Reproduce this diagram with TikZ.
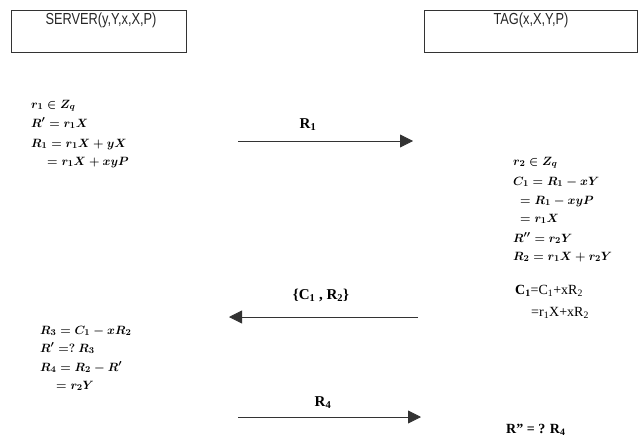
\documentclass[tikz,border=0pt]{standalone}
\usepackage{fontspec}
\usepackage{amsmath}
\setmainfont{Liberation Serif}
\newfontfamily\boxfont[FakeStretch=0.8]{Liberation Sans}
\usetikzlibrary{arrows.meta}
\begin{document}
\begin{tikzpicture}[x=1pt,y=-1pt,
  party/.style={draw=black!80,line width=0.8pt},
  boxlabel/.style={font=\boxfont\fontsize{16}{18}\selectfont,text=black!85},
  eq/.style={anchor=base west,inner sep=0pt,font=\fontsize{12.8}{15}\selectfont},
  tm/.style={anchor=base west,inner sep=0pt,font=\bfseries\fontsize{14}{16}\selectfont},
  msg/.style={draw=black!80,line width=0.8pt,-{Triangle[length=13pt,width=13pt]}},
  msglabel/.style={inner sep=0pt,font=\bfseries\fontsize{15}{17}\selectfont}]
\useasboundingbox (0,0) rectangle (644,436);
% boxes
\draw[party] (11,10) rectangle (186,52);
\draw[party] (424,10) rectangle (637,52);
\node[boxlabel] (server) at (101,20) {SERVER(y,Y,x,X,P)};
\node[boxlabel] (tag) at (531,20) {TAG(x,X,Y,P)};
% server block 1
\node[eq] (s1) at (31,108) {$\boldsymbol{r_1\in Z_q}$};
\node[eq] (s2) at (31,127) {$\boldsymbol{R'=r_1X}$};
\node[eq] (s3) at (31,147) {$\boldsymbol{R_1=r_1X+yX}$};
\node[eq] (s4) at (47,165) {$\boldsymbol{=r_1X+xyP}$};
% message R1
\coordinate (a1s) at (238,141);
\coordinate (a1e) at (413,141);
\draw[msg] (a1s) -- (a1e);
\node[msglabel] (l1) at (308,125) {R\textsubscript{1}};
% tag block
\node[eq] (t1) at (513,165) {$\boldsymbol{r_2\in Z_q}$};
\node[eq] (t2) at (513,185) {$\boldsymbol{C_1=R_1-xY}$};
\node[eq] (t3) at (520,204) {$\boldsymbol{=R_1-xyP}$};
\node[eq] (t4) at (520,222) {$\boldsymbol{=r_1X}$};
\node[eq] (t5) at (513,242) {$\boldsymbol{R''=r_2Y}$};
\node[eq] (t6) at (513,260) {$\boldsymbol{R_2=r_1X+r_2Y}$};
\node[tm] (t7) at (515,294) {C\textsubscript{1}\mdseries=C\textsubscript{1}+xR\textsubscript{2}};
\node[tm,font=\fontsize{14}{16}\selectfont] (t8) at (531,316) {=r\textsubscript{1}X+xR\textsubscript{2}};
% message C1,R2
\coordinate (a2s) at (418,317);
\coordinate (a2e) at (229,317);
\draw[msg] (a2s) -- (a2e);
\node[msglabel] (l2) at (321,295) {\{C\textsubscript{1} ,\ R\textsubscript{2}\}};
% server block 2
\node[eq] (u1) at (40,334) {$\boldsymbol{R_3=C_1-xR_2}$};
\node[eq] (u2) at (40,352) {$\boldsymbol{R'=?\ R_3}$};
\node[eq] (u3) at (40,371) {$\boldsymbol{R_4=R_2-R'}$};
\node[eq] (u4) at (56,389) {$\boldsymbol{=r_2Y}$};
% message R4
\coordinate (a3s) at (238,417);
\coordinate (a3e) at (421,417);
\draw[msg] (a3s) -- (a3e);
\node[msglabel] (l3) at (323,403) {R\textsubscript{4}};
\node[tm] (v1) at (506,433) {R'' = ? R\textsubscript{4}};
\end{tikzpicture}
\end{document}
